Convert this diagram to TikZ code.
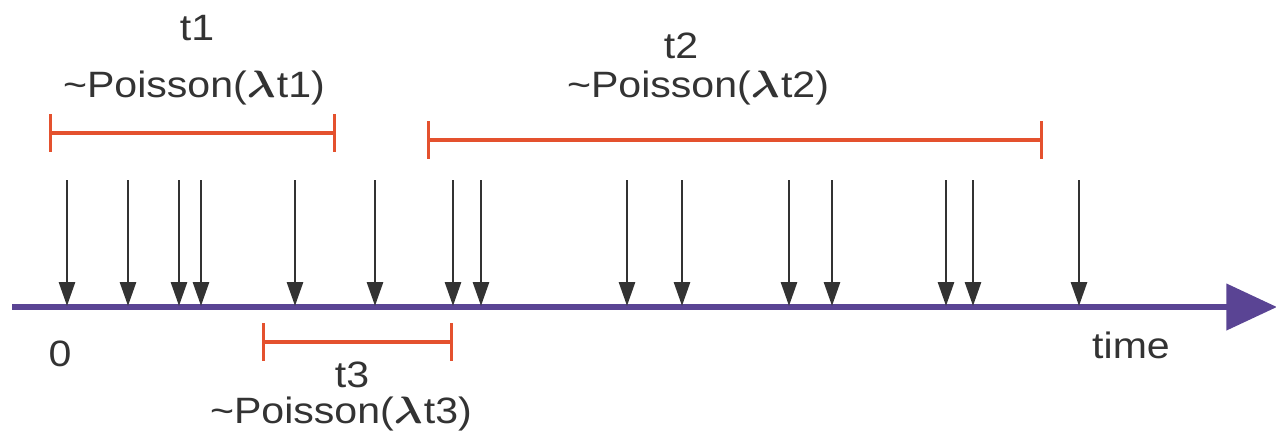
\documentclass[tikz,border=0pt]{standalone}
\usepackage{fontspec}
\usepackage{amsmath,bm}
\setmainfont{Liberation Sans}
\usetikzlibrary{arrows.meta}
\definecolor{axispurple}{HTML}{5A4494}
\definecolor{intred}{HTML}{E4512E}
\definecolor{arrgray}{HTML}{333333}
\newcommand{\lam}{\scalebox{1.15}{$\bm{\lambda}$}\hspace{1pt}}
\newcommand{\wide}[1]{\scalebox{1.12}[1]{#1}}
\begin{document}
\begin{tikzpicture}[x=0.75pt,y=-0.75pt,
  lbl/.style={text=arrgray,font=\fontsize{27.5}{30}\selectfont,inner sep=0pt,anchor=center},
  event/.style={draw=arrgray,line width=2.1pt,-{Triangle[length=18pt,width=12pt]}},
  interval/.style={draw=intred,line width=2.3pt,{Bar[width=28pt]}-{Bar[width=28pt]}},
  axis/.style={draw=axispurple,line width=4.9pt,-{Triangle[length=38pt,width=34pt]}}]
\useasboundingbox (0,0) rectangle (1276,437);
% axis
\coordinate (ax0) at (12,307);
\coordinate (ax1) at (1277,307);
\draw[axis] (ax0) -- (ax1);
% events
\foreach \x [count=\i] in {67,128,179,201,295,375,453,481,627,682,789,832,946,973,1079}{
  \coordinate (s\i) at (\x,180);
  \coordinate (e\i) at (\x,306);
  \draw[event] (s\i) -- (e\i);
}
% intervals
\coordinate (i1l) at (49,133); \coordinate (i1r) at (336,133);
\coordinate (i2l) at (427,140); \coordinate (i2r) at (1043,140);
\coordinate (i3l) at (262,342); \coordinate (i3r) at (453,342);
\draw[interval] (i1l) -- (i1r);
\draw[interval] (i2l) -- (i2r);
\draw[interval] (i3l) -- (i3r);
% labels
\node[lbl] (t1) at (197,28) {\wide{t1}};
\node[lbl] (p1) at (194,88) {\wide{\char`\~Poisson(\lam t1)}};
\node[lbl] (t2) at (681,46) {\wide{t2}};
\node[lbl] (p2) at (698,88) {\wide{\char`\~Poisson(\lam t2)}};
\node[lbl] (t3) at (352,375) {\wide{t3}};
\node[lbl] (p3) at (341,414) {\wide{\char`\~Poisson(\lam t3)}};
\node[lbl] (zero) at (60,354) {\wide{0}};
\node[lbl] (time) at (1131,345) {\wide{time}};
\end{tikzpicture}
\end{document}
